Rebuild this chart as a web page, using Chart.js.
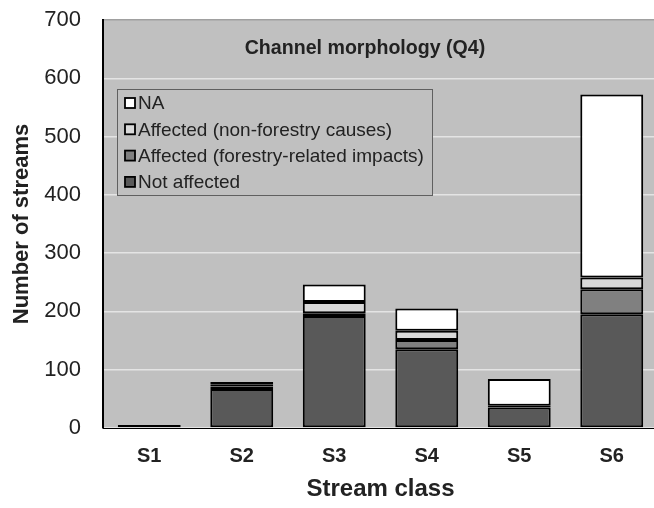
<!DOCTYPE html>
<html>
<head>
<meta charset="utf-8">
<script src="https://cdn.jsdelivr.net/npm/chart.js@4"></script>
<style>
  body { margin: 0; overflow: hidden; background: #fff; }
  #wrap { width: 660px; height: 508px; }
</style>
</head>
<body>
<div id="wrap"><canvas id="chart1"></canvas></div>
<script>
const categories = ["S1", "S2", "S3", "S4", "S5", "S6"];
const notAffected = [5, 67, 192, 135, 35, 195];
const forestryImpacts = [0, 4, 5, 16, 1, 43];
const nonForestry = [0, 4, 19, 16, 2, 20];
const naValues = [0, 4, 30, 38, 46, 314];
const yTicks = [0, 100, 200, 300, 400, 500, 600, 700];

const FONT = "'Liberation Sans', Arial, sans-serif";
Chart.defaults.font.family = FONT;
Chart.defaults.color = "#222222";

// grey plot background, drawn under the grid
const plotBg = {
    id: "plotBg",
    beforeDraw(chart) {
        const a = chart.chartArea, ctx = chart.ctx;
        ctx.save();
        ctx.fillStyle = "#c0c0c0";
        ctx.fillRect(a.left, a.top, a.right - a.left, a.bottom - a.top);
        ctx.restore();
    }
};

// title sits inside the plot area, legend box too
const insideBits = {
    id: "insideBits",
    afterDraw(chart) {
        const a = chart.chartArea, ctx = chart.ctx;
        ctx.save();
        ctx.fillStyle = "#222222";
        ctx.font = "bold 19.6px " + FONT;
        ctx.textAlign = "center";
        ctx.textBaseline = "middle";
        ctx.fillText("Channel morphology (Q4)", a.left + 262, a.top + 29);

        const bx = a.left + 14, by = a.top + 69, bw = 315, bh = 106;
        ctx.fillStyle = "#c0c0c0";
        ctx.fillRect(bx, by, bw, bh);
        ctx.strokeStyle = "#606060";
        ctx.lineWidth = 1;
        ctx.strokeRect(bx + 0.5, by + 0.5, bw, bh);

        const sets = chart.data.datasets.slice().reverse();
        ctx.font = "19px " + FONT;
        ctx.textAlign = "left";
        sets.forEach((ds, i) => {
            const cy = by + 14 + i * 26.3;
            ctx.fillStyle = ds.backgroundColor;
            ctx.fillRect(bx + 8, cy - 5, 10, 10);
            ctx.strokeStyle = "#000";
            ctx.lineWidth = 1.8;
            ctx.strokeRect(bx + 8, cy - 5, 10, 10);
            ctx.fillStyle = "#222222";
            ctx.fillText(ds.label, bx + 21, cy + 1);
        });
        ctx.restore();
    }
};

function series(label, data, color) {
    return {
        label: label,
        data: data,
        backgroundColor: color,
        borderColor: "#000000",
        borderWidth: 2,
        borderSkipped: false,
        barPercentage: 0.68,
        categoryPercentage: 1.0
    };
}

const chart1 = document.getElementById("chart1");

const barChart = new Chart(chart1, {
    type: "bar",
    data: {
        labels: categories,
        datasets: [
            series("Not affected", notAffected, "#595959"),
            series("Affected (forestry-related impacts)", forestryImpacts, "#808080"),
            series("Affected (non-forestry causes)", nonForestry, "#d9d9d9"),
            series("NA", naValues, "#ffffff")
        ]
    },
    options: {
        responsive: true,
        maintainAspectRatio: false,
        animation: false,
        layout: { padding: { left: 0, top: 20, right: 2, bottom: 0 } },
        plugins: {
            legend: { display: false },
            tooltip: { enabled: false }
        },
        scales: {
            x: {
                stacked: true,
                grid: { display: false, drawTicks: false },
                border: { color: "#000000", width: 1 },
                ticks: { padding: 16, font: { size: 20, weight: "bold" }, color: "#222222" },
                title: {
                    display: true,
                    text: "Stream class",
                    font: { size: 24, weight: "bold" },
                    color: "#222222",
                    padding: { top: 0, bottom: 4 }
                },
                afterFit(scale) {
                    scale.height = 80;
                    scale.paddingTop = 0;
                    scale.paddingBottom = 0;
                }
            },
            y: {
                stacked: true,
                min: 0,
                max: 700,
                afterBuildTicks(scale) { scale.ticks = yTicks.map(v => ({ value: v })); },
                grid: {
                    drawTicks: false,
                    color: ctx => ctx.tick && ctx.tick.value === 700 ? "#a0a0a0" : "#e4e4e4",
                    lineWidth: 1.5
                },
                border: { color: "#000000", width: 2 },
                ticks: { padding: 22, font: { size: 22 }, color: "#222222" },
                title: {
                    display: true,
                    text: "Number of streams",
                    font: { size: 22, weight: "bold" },
                    color: "#222222",
                    padding: { top: 9, bottom: 0 }
                },
                afterFit(scale) {
                    scale.width = 103;
                    scale.paddingTop = 0;
                    scale.paddingBottom = 0;
                }
            }
        }
    },
    plugins: [plotBg, insideBits]
});
</script>
</body>
</html>
